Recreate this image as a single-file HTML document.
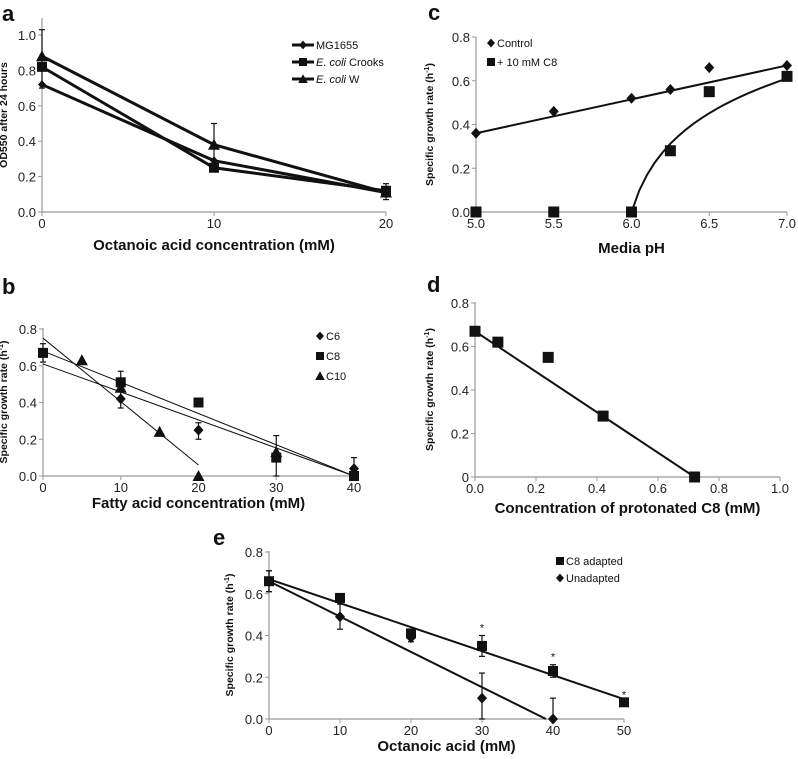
<!DOCTYPE html>
<html><head><meta charset="utf-8">
<style>
body{margin:0;background:#fff;}
svg{display:block;font-family:"Liberation Sans",Arial,sans-serif;}
.tk{font-size:13px;fill:#222;}
.xt{font-size:15px;font-weight:bold;fill:#111;}
.yt{font-size:10.5px;font-weight:bold;fill:#111;}
.pl{font-size:22px;font-weight:bold;fill:#111;}
.lg{font-size:11px;fill:#111;}
</style></head>
<body>
<svg id="fig" width="798" height="759" viewBox="0 0 798 759"></svg>
<script>
// Panel a data
const aX=[0,10,20];
const aMG=[0.72,0.29,0.11];
const aCrooks=[0.82,0.25,0.12];
const aW=[0.88,0.38,0.11];
const aErrHi=[1.03,0.50,0.16];
const aErrLo=[0.70,0.25,0.07];
const aYTicks=["0.0","0.2","0.4","0.6","0.8","1.0"];
const aXTicks=["0","10","20"];
// Panel b data
const bC6X=[10,20,40];const bC6=[0.42,0.25,0.04];
const bC8X=[0,10,20,30,40];const bC8=[0.67,0.51,0.40,0.10,0.00];
const bC10X=[5,10,15,20,30];const bC10=[0.63,0.48,0.24,0.00,0.13];
const bFitC10=[[0,0.75],[20,0.06]];
const bFitC8=[[0,0.68],[40,0]];
const bFitC6=[[0,0.61],[40,0]];
const bYTicks=["0.0","0.2","0.4","0.6","0.8"];
const bXTicks=["0","10","20","30","40"];
// Panel c data
const cX=[5.0,5.5,6.0,6.25,6.5,7.0];
const cControl=[0.36,0.46,0.52,0.56,0.66,0.67];
const cC8=[0,0,0,0.28,0.55,0.62];
const cFitControl=[[5.0,0.36],[7.0,0.67]];
const cYTicks=["0.0","0.2","0.4","0.6","0.8"];
const cXTicks=["5.0","5.5","6.0","6.5","7.0"];
// Panel d data
const dX=[0,0.075,0.24,0.42,0.72];
const dY=[0.67,0.62,0.55,0.28,0];
const dFit=[[0,0.67],[0.72,0]];
const dYTicks=["0","0.2","0.4","0.6","0.8"];
const dXTicks=["0.0","0.2","0.4","0.6","0.8","1.0"];
// Panel e data
const eAdX=[0,10,20,30,40,50];const eAd=[0.66,0.58,0.41,0.35,0.23,0.08];
const eUnX=[0,10,20,30,40];const eUn=[0.66,0.49,0.39,0.10,0];
const eAdErr=[0.05,0,0.01,0.05,0.03,0];
const eUnErr=[0.05,0.06,0.02,0.12,0.10];
const eFitAd=[[0,0.67],[50,0.095]];
const eFitUn=[[0,0.66],[39,0]];
const eYTicks=["0.0","0.2","0.4","0.6","0.8"];
const eXTicks=["0","10","20","30","40","50"];

const S=document.getElementById('fig');const NS='http://www.w3.org/2000/svg';
function mk(t,a,p){const e=document.createElementNS(NS,t);for(const k in a)e.setAttribute(k,a[k]);(p||S).appendChild(e);return e;}
function txt(x,y,s,c,anchor,p){const e=mk('text',{x:x,y:y,class:c,'text-anchor':anchor||'middle'},p);e.textContent=s;return e;}
function panel(name,px0,px1,xmin,xmax,py0,py1,ymin,ymax,ytop){
  const g=mk('g',{});
  
  
  const sx=v=>px0+(v-xmin)/(xmax-xmin)*(px1-px0);
  const sy=v=>py0-(v-ymin)/(ymax-ymin)*(py0-py1);
  return {g,sx,sy,px0,px1,py0,py1,ytop};
}
function axes(P,xt,xv,yt,yv,xtitle,ytitle,xty,ytx,letter,lx,ly){
  const g=P.g;
  const ax=mk('g',{},g);
  
  
  mk('line',{x1:P.px0,y1:P.ytop,x2:P.px0,y2:P.py0,stroke:'#999','stroke-width':1.2},ax);
  mk('line',{x1:P.px0,y1:P.py0,x2:P.px1,y2:P.py0,stroke:'#999','stroke-width':1.2},ax);
  yt.forEach((s,i)=>{const y=P.sy(yv[i]);mk('line',{x1:P.px0-4,y1:y,x2:P.px0,y2:y,stroke:'#999'},ax);
    const t=txt(P.px0-6,y+5,s,'tk','end',ax);});
  xt.forEach((s,i)=>{const x=P.sx(xv[i]);mk('line',{x1:x,y1:P.py0,x2:x,y2:P.py0+4,stroke:'#999'},ax);
    const t=txt(x,P.py0+16,s,'tk','middle',ax);});
  const xtl=txt((P.px0+P.px1)/2,xty,xtitle,'xt','middle',g);
  
  const cy=(P.ytop+P.py0)/2;
  const ytl=mk('text',{x:ytx,y:cy,class:'yt','text-anchor':'middle',transform:`rotate(-90 ${ytx} ${cy})`},g);
  ytl.innerHTML=ytitle;
  
  const L=txt(lx,ly,letter,'pl','start',g);
  
}
function marker(type,x,y,p,s){s=s||1;
  let e;
  if(type==='sq')e=mk('rect',{x:x-5*s,y:y-5*s,width:10*s,height:10*s,fill:'#111'},p);
  else if(type==='di')e=mk('polygon',{points:`${x},${y-5.5*s} ${x+5*s},${y} ${x},${y+5.5*s} ${x-5*s},${y}`,fill:'#111'},p);
  else e=mk('polygon',{points:`${x},${y-6*s} ${x+6*s},${y+5*s} ${x-6*s},${y+5*s}`,fill:'#111'},p);
  
  
  return e;
}
function poly(P,xs,ys,w,name){
  const e=mk('polyline',{points:xs.map((x,i)=>P.sx(x)+','+P.sy(ys[i])).join(' '),fill:'none',stroke:'#111','stroke-width':w},P.g);
  
  
  return e;
}
function fit(P,f,w,name){return poly(P,f.map(p=>p[0]),f.map(p=>p[1]),w,name);}
function err(P,x,lo,hi){const X=P.sx(x);
  mk('line',{x1:X,y1:P.sy(lo),x2:X,y2:P.sy(hi),stroke:'#111','stroke-width':1.2},P.g);
  [lo,hi].forEach(v=>mk('line',{x1:X-3,y1:P.sy(v),x2:X+3,y2:P.sy(v),stroke:'#111','stroke-width':1.2},P.g));
}
function legend(p,x,y,type,label,line,html){
  const g=mk('g',{},p);
  
  
  if(line){mk('line',{x1:x-11,y1:y,x2:x+11,y2:y,stroke:'#111','stroke-width':3},g);marker(type,x,y,g,0.8);x+=12;}
  else{marker(type,x,y,g,0.8);x+=5;}
  const t=mk('text',{x:x+1,y:y+4,class:'lg'},g);t.innerHTML=html||label;
}
const yv=n=>n.map(Number);

// ---- Panel a
{const P=panel('panel-a',42,386,0,20,212,35,0,1.0,18);
 axes(P,aXTicks,yv(aXTicks),aYTicks,yv(aYTicks),'Octanoic acid concentration (mM)','OD550 after 24 hours',250,7,'a',2,21);
 aX.forEach((x,i)=>err(P,x,aErrLo[i],aErrHi[i]));
 poly(P,aX,aMG,3,'line-mg1655');poly(P,aX,aCrooks,3,'line-crooks');poly(P,aX,aW,3,'line-w');
 aX.forEach((x,i)=>{marker('di',P.sx(x),P.sy(aMG[i]),P.g,0.8);marker('sq',P.sx(x),P.sy(aCrooks[i]),P.g);marker('tri',P.sx(x),P.sy(aW[i]),P.g);});
 legend(P.g,303,45,'di','MG1655',true);
 legend(P.g,303,62,'sq','',true,'<tspan font-style="italic">E. coli</tspan> Crooks');
 legend(P.g,303,79,'tri','',true,'<tspan font-style="italic">E. coli</tspan> W');
}
// ---- Panel c
{const P=panel('panel-c',476,787,5,7,212,37,0,0.8,37);
 axes(P,cXTicks,yv(cXTicks),cYTicks,yv(cYTicks),'Media pH','Specific growth rate (h<tspan font-size="7" dy="-4">-1</tspan><tspan dy="4">)</tspan>',253,433,'c',428,20);
 fit(P,cFitControl,2,'fit-control');
 const xs=[],ys=[];for(let i=0;i<=20;i++){const x=6+i/20;xs.push(x);ys.push(0.61*Math.log(1+(x-6)*9)/Math.log(10));}
 poly(P,xs,ys,2,'fit-c8');
 cX.forEach((x,i)=>{marker('di',P.sx(x),P.sy(cControl[i]),P.g);marker('sq',P.sx(x),P.sy(cC8[i]),P.g,1.1);});
 legend(P.g,491,43,'di','Control');legend(P.g,491,62,'sq','+ 10 mM C8');
}
// ---- Panel b
{const P=panel('panel-b',43,354,0,40,476,329,0,0.8,328);
 axes(P,bXTicks,yv(bXTicks),bYTicks,yv(bYTicks),'Fatty acid concentration (mM)','Specific growth rate (h<tspan font-size="7" dy="-4">-1</tspan><tspan dy="4">)</tspan>',508,7,'b',2,294);
 [[0,0.62,0.72],[10,0.47,0.57],[10,0.37,0.47],[20,0.20,0.29],[30,0,0.22],[40,0,0.10]].forEach(e=>err(P,e[0],e[1],e[2]));
 fit(P,bFitC10,1,'fit-c10');fit(P,bFitC8,1,'fit-c8');fit(P,bFitC6,1,'fit-c6');
 bC6X.forEach((x,i)=>marker('di',P.sx(x),P.sy(bC6[i]),P.g));
 bC8X.forEach((x,i)=>marker('sq',P.sx(x),P.sy(bC8[i]),P.g));
 bC10X.forEach((x,i)=>marker('tri',P.sx(x),P.sy(bC10[i]),P.g));
 legend(P.g,320,336,'di','C6');legend(P.g,320,356,'sq','C8');legend(P.g,320,376,'tri','C10');
}
// ---- Panel d
{const P=panel('panel-d',475,780,0,1,477,303,0,0.8,302);
 axes(P,dXTicks,yv(dXTicks),dYTicks,yv(dYTicks),'Concentration of protonated C8 (mM)','Specific growth rate (h<tspan font-size="7" dy="-4">-1</tspan><tspan dy="4">)</tspan>',513,433,'d',427,292);
 fit(P,dFit,2,'fit-line');
 dX.forEach((x,i)=>marker('sq',P.sx(x),P.sy(dY[i]),P.g,1.1));
}
// ---- Panel e
{const P=panel('panel-e',269,624,0,50,719,552,0,0.8,551);
 axes(P,eXTicks,yv(eXTicks),eYTicks,yv(eYTicks),'Octanoic acid (mM)','Specific growth rate (h<tspan font-size="7" dy="-4">-1</tspan><tspan dy="4">)</tspan>',751,233,'e',213,545);
 eAdX.forEach((x,i)=>{if(eAdErr[i])err(P,x,eAd[i]-eAdErr[i],eAd[i]+eAdErr[i]);});
 eUnX.forEach((x,i)=>{if(eUnErr[i])err(P,x,Math.max(0,eUn[i]-eUnErr[i]),eUn[i]+eUnErr[i]);});
 fit(P,eFitAd,2,'fit-adapted');fit(P,eFitUn,2,'fit-unadapted');
 eAdX.forEach((x,i)=>marker('sq',P.sx(x),P.sy(eAd[i]),P.g));
 eUnX.forEach((x,i)=>marker('di',P.sx(x),P.sy(eUn[i]),P.g));
 [30,40,50].forEach((x,i)=>txt(P.sx(x),P.sy(eAd[i+3]+eAdErr[i+3])-4,'*','lg','middle',P.g));
 legend(P.g,560,561,'sq','C8 adapted');legend(P.g,560,578,'di','Unadapted');
}
</script>
</body></html>
